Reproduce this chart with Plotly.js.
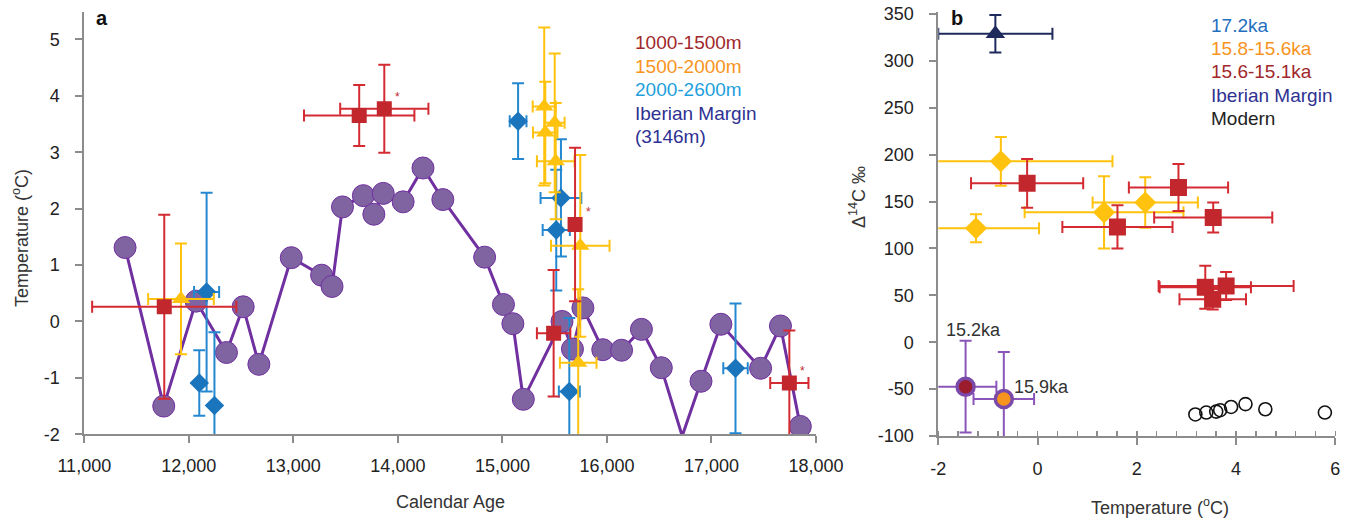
<!DOCTYPE html>
<html>
<head>
<meta charset="utf-8">
<script src="https://cdn.plot.ly/plotly-3.0.1.min.js"></script>
<style>
  html, body { margin: 0; padding: 0; background: #fff; }
  #chart { width: 1354px; height: 520px; }
</style>
</head>
<body>
<div id="chart"></div>
<script>
// ---------- Panel a data ----------
const ibAge  = [11390, 11760, 12070, 12360, 12520, 12670, 12980, 13270, 13370, 13470, 13670, 13770, 13860, 14050, 14240, 14430, 14830, 15010, 15100, 15200, 15570, 15670, 15770, 15960, 16140, 16330, 16520, 16720, 16900, 17090, 17470, 17660, 17850];
const ibTemp = [1.31, -1.50, 0.36, -0.55, 0.26, -0.76, 1.13, 0.82, 0.62, 2.03, 2.23, 1.90, 2.27, 2.12, 2.72, 2.16, 1.14, 0.30, -0.04, -1.38, 0.00, -0.49, 0.24, -0.50, -0.51, -0.14, -0.82, -2.03, -1.06, -0.05, -0.83, -0.08, -1.86];

const redAge     = [11765, 13630, 13870, 15490, 15695, 17745];
const redTemp    = [0.26, 3.65, 3.77, -0.21, 1.72, -1.09];
const redTempErr = [1.63, 0.54, 0.78, 1.12, 1.36, 0.93];
const redAgeErr  = [690, 528, 422, 160, 0, 183];
const redStar    = [false, false, true, false, true, true];

const yelAge     = [11925, 15400, 15500, 15410, 15510, 15745, 15725];
const yelTemp    = [0.40, 3.81, 3.52, 3.35, 2.84, 1.34, -0.73];
const yelTempErr = [0.98, 1.40, 1.23, 0.90, 1.03, 1.61, 1.30];
const yelAgeErr  = [314, 110, 95, 117, 180, 280, 175];

const bluAge     = [12170, 12100, 12245, 15150, 15560, 15515, 15640, 17230];
const bluTemp    = [0.52, -1.09, -1.49, 3.55, 2.19, 1.62, -1.24, -0.83];
const bluTempErr = [1.76, 0.58, 1.30, 0.67, 1.04, 1.07, 1.30, 1.15];
const bluAgeErr  = [120, 0, 0, 80, 195, 130, 100, 117];

const legendA = ['1000-1500m', '1500-2000m', '2000-2600m', 'Iberian Margin', '(3146m)'];

const ageTicks  = [11000, 12000, 13000, 14000, 15000, 16000, 17000, 18000];
const ageLabels = ['11,000', '12,000', '13,000', '14,000', '15,000', '16,000', '17,000', '18,000'];
const tempTicksA  = [-2, -1, 0, 1, 2, 3, 4, 5];
const tempLabelsA = ['-2', '-1', '0', '1', '2', '3', '4', '5'];

// ---------- Panel b data ----------
const navT = [-0.85], navD = [329], navTErr = [1.15], navDErr = [20];

const ybT    = [-0.74, -1.24, 1.34, 2.17];
const ybD    = [193, 121.5, 138.5, 149];
const ybTErr = [2.25, 1.27, 1.60, 1.06];
const ybDErr = [26, 15, 38.5, 27];

const rbT    = [-0.21, 2.84, 1.61, 3.54, 3.38, 3.80, 3.53];
const rbD    = [169.5, 165, 123, 133, 58.6, 60, 45.8];
const rbTErr = [1.13, 1.00, 1.11, 1.19, 0.92, 1.36, 0.67];
const rbDErr = [26, 25, 23, 16, 23, 15, 11];

const ibbT     = [-1.45, -0.68];
const ibbD     = [-47.4, -60.5];
const ibbTErr  = [0.62, 0.61];
const ibbDErr  = [49, 50];
const ibbLabel = ['15.2ka', '15.9ka'];

const modT = [3.18, 3.40, 3.60, 3.68, 3.90, 4.19, 4.59, 5.79];
const modD = [-77, -75, -74, -72.5, -69, -66, -71.5, -75];

const legendB = ['17.2ka', '15.8-15.6ka', '15.6-15.1ka', 'Iberian Margin', 'Modern'];

const tempTicksB  = [-2, 0, 2, 4, 6];
const tempLabelsB = ['-2', '0', '2', '4', '6'];
const d14Ticks  = [-100, -50, 0, 50, 100, 150, 200, 250, 300, 350];
const d14Labels = ['-100', '-50', '0', '50', '100', '150', '200', '250', '300', '350'];

// ---------- styling ----------
const W = 1354, H = 520;
const FONT = 'Liberation Sans, Arial, sans-serif';
const AX = '#8c8c8c';
const C_RED = '#c1272d', C_RED_EB = '#d42a32';
const C_YEL = '#ffc20e';
const C_BLU = '#1b75bc', C_BLU_EB = '#2488d0';
const C_PUR_M = '#8064a2', C_PUR_L = '#7030a0';
const C_NAV = '#1f2a5c';

const px = v => v / W;
const py = v => 1 - v / H;

function eb(arr, color, w) {
  return {type: 'data', array: arr, visible: true, color: color, thickness: 2, width: w};
}

const hiddenIb = 27; // vertex sits on the axis, marker not shown in reference
const ibSize = ibAge.map((_, i) => i === hiddenIb ? 0 : 22);

const traces = [
  {x: ibAge, y: ibTemp, xaxis: 'x', yaxis: 'y', mode: 'lines+markers', type: 'scatter',
   line: {color: C_PUR_L, width: 3}, marker: {symbol: 'circle', size: ibSize, color: C_PUR_M, opacity: 1}},
  {x: bluAge, y: bluTemp, xaxis: 'x', yaxis: 'y', mode: 'markers', type: 'scatter',
   marker: {symbol: 'diamond', size: 15, color: C_BLU},
   error_y: eb(bluTempErr, C_BLU_EB, 6), error_x: eb(bluAgeErr, C_BLU_EB, 6)},
  {x: yelAge, y: yelTemp, xaxis: 'x', yaxis: 'y', mode: 'markers', type: 'scatter',
   marker: {symbol: 'triangle-up', size: 16, color: C_YEL},
   error_y: eb(yelTempErr, C_YEL, 6), error_x: eb(yelAgeErr, C_YEL, 6)},
  {x: redAge, y: redTemp, xaxis: 'x', yaxis: 'y', mode: 'markers', type: 'scatter',
   marker: {symbol: 'square', size: 15, color: C_RED},
   error_y: eb(redTempErr, C_RED_EB, 6), error_x: eb(redAgeErr, C_RED_EB, 6)},

  {x: modT, y: modD, xaxis: 'x2', yaxis: 'y2', mode: 'markers', type: 'scatter',
   marker: {symbol: 'circle-open', size: 13, color: '#111', line: {width: 1.6}}},
  {x: ybT, y: ybD, xaxis: 'x2', yaxis: 'y2', mode: 'markers', type: 'scatter',
   marker: {symbol: 'diamond', size: 17, color: C_YEL},
   error_y: eb(ybDErr, C_YEL, 6), error_x: eb(ybTErr, C_YEL, 6)},
  {x: rbT, y: rbD, xaxis: 'x2', yaxis: 'y2', mode: 'markers', type: 'scatter',
   marker: {symbol: 'square', size: 17, color: C_RED},
   error_y: eb(rbDErr, C_RED_EB, 6), error_x: eb(rbTErr, C_RED_EB, 6)},
  {x: ibbT, y: ibbD, xaxis: 'x2', yaxis: 'y2', mode: 'markers', type: 'scatter',
   marker: {symbol: 'circle', size: 17, color: ['#9b1c2c', '#f7941d'], opacity: 1, line: {color: '#7b4aa8', width: 3.5}},
   error_y: eb(ibbDErr, '#8a55b8', 6), error_x: eb(ibbTErr, '#8a55b8', 6)},
  {x: navT, y: navD, xaxis: 'x2', yaxis: 'y2', mode: 'markers', type: 'scatter',
   marker: {symbol: 'triangle-up', size: 17, color: C_NAV},
   error_y: eb(navDErr, C_NAV, 6), error_x: eb(navTErr, C_NAV, 6)}
];

const axisBase = {
  showline: true, linecolor: AX, linewidth: 2, showgrid: false, zeroline: false,
  ticks: 'outside', ticklen: 7, tickwidth: 2, tickcolor: AX, tickmode: 'array',
  tickfont: {family: FONT, size: 18, color: '#222'}, fixedrange: true
};

const ann = [];
function txt(text, x, y, opts) {
  ann.push(Object.assign({text: text, x: px(x), y: py(y), xref: 'paper', yref: 'paper',
    showarrow: false, xanchor: 'center', yanchor: 'middle',
    font: {family: FONT, size: 18, color: '#333'}}, opts || {}));
}

// panel letters
txt('<b>a</b>', 102, 18, {font: {family: FONT, size: 20, color: '#111'}});
txt('<b>b</b>', 957, 18, {font: {family: FONT, size: 20, color: '#111'}});
// axis titles
txt('Calendar Age', 450, 502);
txt('Temperature (<sup>o</sup>C)', 21, 238, {textangle: -90});
txt('Temperature (<sup>o</sup>C)', 1160, 506);
txt('Δ<sup>14</sup>C ‰', 857, 197, {textangle: -90});

// legends
const legAColors = ['#a0282b', '#f7941d', '#1e9fdc', '#2e3192', '#2e3192'];
const legAY = [42, 66, 89.5, 113, 137];
legendA.forEach((t, i) => txt(t, 633, legAY[i], {xanchor: 'left', font: {family: FONT, size: 19, color: legAColors[i]}}));
const legBColors = ['#1f6fbf', '#f7941d', '#a0282b', '#2e3192', '#222'];
const legBY = [25, 48.5, 72, 95, 118.5];
legendB.forEach((t, i) => txt(t, 1209, legBY[i], {xanchor: 'left', font: {family: FONT, size: 19, color: legBColors[i]}}));

// asterisks on flagged red points
redAge.forEach((a, i) => {
  if (redStar[i]) ann.push({text: '*', x: a, y: redTemp[i], xref: 'x', yref: 'y', showarrow: false,
    xshift: 13, yshift: 12, font: {family: FONT, size: 12, color: C_RED}});
});
// age labels in panel b
ann.push({text: ibbLabel[0], x: ibbT[0], y: ibbD[0], xref: 'x2', yref: 'y2', showarrow: false,
  xshift: 8, yshift: 57, font: {family: FONT, size: 18, color: '#333'}});
ann.push({text: ibbLabel[1], x: ibbT[1], y: ibbD[1], xref: 'x2', yref: 'y2', showarrow: false,
  xshift: 38, yshift: 12, font: {family: FONT, size: 18, color: '#333'}});

const layout = {
  width: W, height: H,
  margin: {l: 0, r: 0, t: 0, b: 0},
  paper_bgcolor: '#fff', plot_bgcolor: '#fff',
  showlegend: false,
  font: {family: FONT},
  xaxis: Object.assign({}, axisBase, {domain: [px(84.3), px(816)], range: [11000, 18000],
    tickvals: ageTicks, ticktext: ageLabels, anchor: 'y', ticklabelstandoff: 7}),
  yaxis: Object.assign({}, axisBase, {domain: [py(434.3), py(11.7)], range: [-2, 5.49],
    tickvals: tempTicksA, ticktext: tempLabelsA, anchor: 'x', ticklabelstandoff: 12}),
  xaxis2: Object.assign({}, axisBase, {domain: [px(938.3), px(1335.3)], range: [-2, 6],
    tickvals: tempTicksB, ticktext: tempLabelsB, anchor: 'y2', ticklabelstandoff: 8,
    minor: {dtick: 0.4, tickmode: 'linear', ticks: 'inside', ticklen: 5, tickwidth: 1.5, tickcolor: AX, showgrid: false}}),
  yaxis2: Object.assign({}, axisBase, {domain: [py(436), py(11.7)], range: [-100, 352.5],
    tickvals: d14Ticks, ticktext: d14Labels, anchor: 'x2', ticklabelstandoff: 12}),
  annotations: ann
};

Plotly.newPlot('chart', traces, layout, {staticPlot: true, displayModeBar: false});
</script>
</body>
</html>
